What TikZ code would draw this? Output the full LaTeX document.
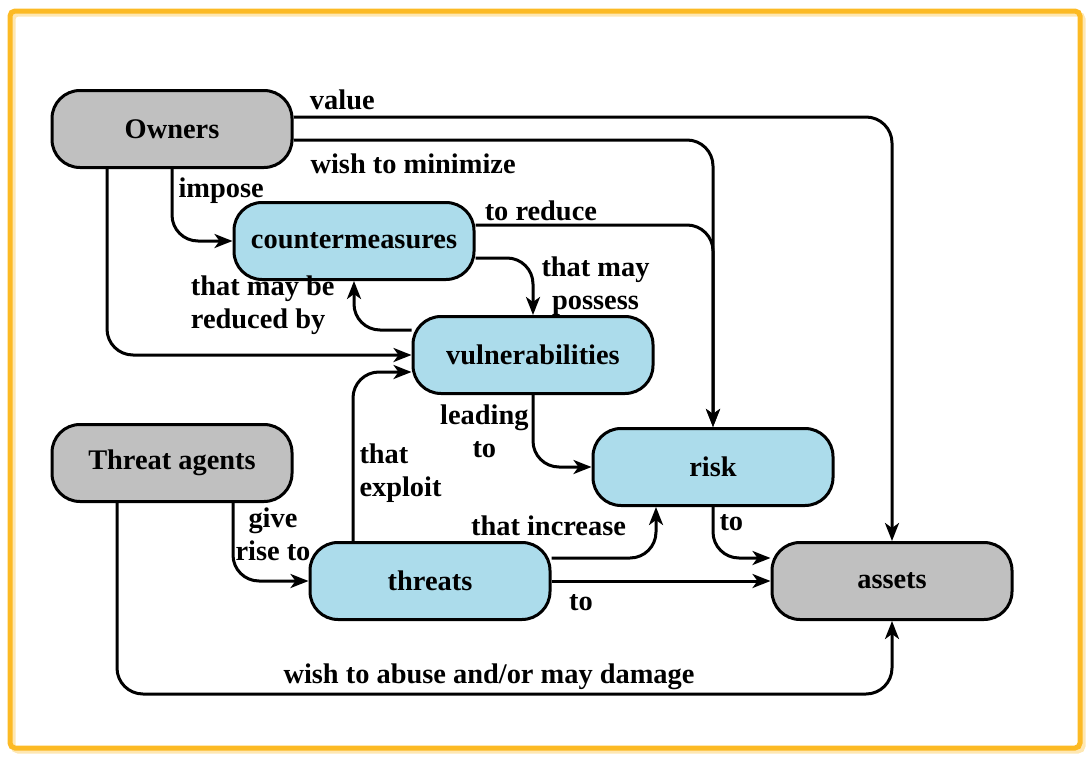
\documentclass[tikz,border=0pt]{standalone}
\usepackage{fontspec}
\setmainfont{Liberation Serif}
\usepackage{tikz}
\usetikzlibrary{arrows.meta}
\definecolor{framegold}{RGB}{252,186,36}
\definecolor{boxgray}{RGB}{192,192,192}
\definecolor{boxblue}{RGB}{172,220,235}
\tikzset{
  basebox/.style={draw,line width=3bp,rounded corners=28bp,minimum width=240bp,minimum height=77bp,font=\fontsize{28.5}{31}\selectfont\bfseries},
  graybox/.style={basebox,fill=boxgray},
  bluebox/.style={basebox,fill=boxblue},
  link/.style={-{Stealth[length=18bp,width=14bp,inset=5bp]},line width=3bp,rounded corners=26bp},
  lbl/.style={font=\fontsize{28.5}{33}\selectfont\bfseries,inner sep=3bp}
}
\begin{document}
\begin{tikzpicture}

\useasboundingbox (0bp,0bp) rectangle (1089bp,-757bp);
\draw [framegold!35,line width=5bp,rounded corners=5bp] (13bp,-14bp) rectangle (1083bp,-751bp);
\draw [framegold,line width=5bp,rounded corners=5bp] (10bp,-11bp) rectangle (1080bp,-748bp);

\node (owners) at (172bp,-129bp)[graybox] {Owners};
\node (counter) at (354bp,-241bp)[bluebox] {countermeasures};
\node (vuln) at (533bp,-355bp)[bluebox] {vulnerabilities};
\node (risk) at (713bp,-467bp)[bluebox] {risk};
\node (tagents) at (172bp,-463bp)[graybox] {Threat agents};
\node (threats) at (430bp,-581bp)[bluebox] {threats};
\node (assets) at (892bp,-581bp)[graybox] {assets};
\draw [link] ([yshift=12bp]owners.east) -| node[lbl,pos=0.01,anchor=south west,yshift=3bp] {value} (assets.north);
\draw [link] ([yshift=-11bp]owners.east) -| node[lbl,pos=0.015,anchor=north west,yshift=-9bp] {wish to minimize} (risk.north);
\draw [link] ([yshift=16bp]counter.east) -| node[lbl,pos=0.01,anchor=south west] {to reduce} (risk.north);
\draw [link] ([yshift=-17bp]counter.east) -| node[lbl,pos=0.75,anchor=west,align=center,xshift=4bp] {that may\\possess} (vuln.north);
\draw [link] ([yshift=25bp]vuln.west) -| node[lbl,pos=0.75,anchor=east,align=left,xshift=-15bp] {that may be\\reduced by} (counter.south);
\draw [link] ([xshift=-65bp]owners.south) |- (vuln.west);
\draw [link] (owners.south) |- node[lbl,pos=0.15,anchor=west,xshift=2bp] {impose} (counter.west);
\draw [link] (vuln.south) |- node[lbl,pos=0.25,anchor=east,align=center] {leading\\to} (risk.west);
\draw [link] ([xshift=-77bp]threats.north) |- node[lbl,pos=0.2,anchor=west,align=left,xshift=2bp] {that\\exploit} ([yshift=-17bp]vuln.west);
\draw [link] ([xshift=61bp]tagents.south) |- node[lbl,pos=0.2,anchor=west,align=center,inner sep=1bp] {give\\rise to} (threats.west);
\draw [link] ([yshift=23bp]threats.east) -| node[lbl,at start,anchor=south,xshift=-3bp,yshift=18bp] {that increase} ([xshift=-57bp]risk.south);
\draw [link] (threats.east) -- node[lbl,pos=0.06,anchor=north west,yshift=-9bp] {to} (assets.west);
\draw [link] (risk.south) |- node[lbl,pos=0.15,anchor=west,xshift=2bp] {to} ([yshift=23bp]assets.west);
\draw [link] ([xshift=-55bp]tagents.south) -- ++(0bp,-191bp) -| node[lbl,pos=0.24,anchor=south] {wish to abuse and/or may damage} (assets.south);
\end{tikzpicture}
\end{document}
